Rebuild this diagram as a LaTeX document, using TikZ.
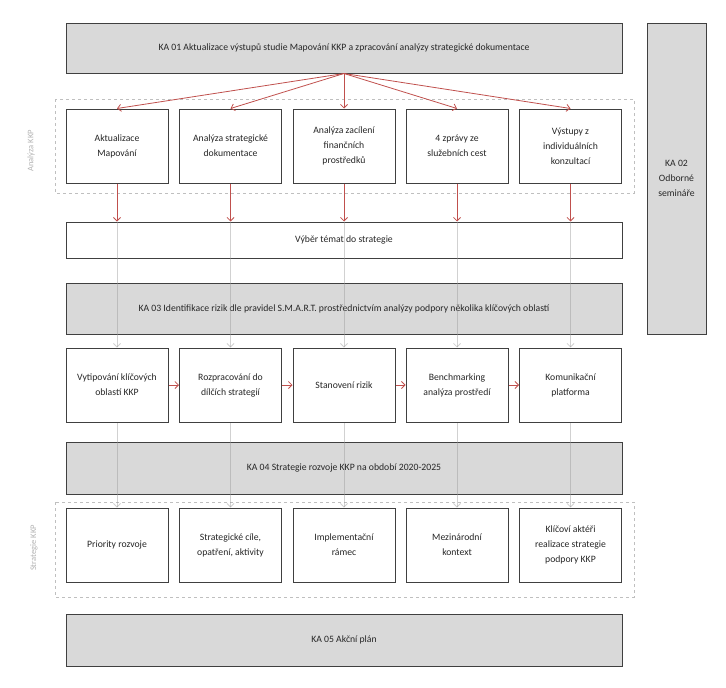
\documentclass[tikz,border=0pt]{standalone}
\usepackage{fontspec}
\setmainfont{Carlito}
\usepackage{tikz}
\usetikzlibrary{arrows.meta}

\definecolor{kared}{RGB}{192,80,77}
\definecolor{kafill}{RGB}{217,217,217}

\begin{document}
\begin{tikzpicture}[x=1pt,y=-1pt]
\tikzstyle{box}=[draw=black!75,line width=1pt,align=center,inner sep=2pt,text=black!85,font=\fontsize{9.7}{15}\selectfont]
\tikzstyle{ka}=[box,fill=kafill,minimum width=556pt,minimum height=51pt]
\tikzstyle{small}=[box,fill=white,minimum width=102pt,minimum height=74pt]
\tikzstyle{group}=[draw=black!25,dashed,line width=0.8pt]
\tikzstyle{side}=[text=black!30,rotate=90,font=\fontsize{8.5}{10}\selectfont]
\tikzstyle{redarr}=[-{Straight Barb[length=3.5pt,width=7pt]},kared,line width=0.8pt]
\tikzstyle{grayarr}=[-{Straight Barb[length=3.5pt,width=7pt]},black!40,draw opacity=0.45,line width=0.8pt]

\useasboundingbox (0,0) rectangle (726,688);

% dashed groups
\draw[group] (55,99) rectangle (634,193);
\draw[group] (55,502) rectangle (634,597);
\node[side] (lblanalyza) at (31,151) {Analýza KKP};
\node[side] (lblstrategie) at (34,548) {Strategie KKP};

% main activities
\node[ka,minimum height=50pt] (ka01) at (344,48) {KA 01 Aktualizace výstupů studie Mapování KKP a zpracování analýzy strategické dokumentace};
\node[box,fill=kafill,minimum width=59pt,minimum height=311pt] (ka02) at (676.5,178.5) {KA 02\\Odborné\\semináře};
\node[box,fill=white,minimum width=556pt,minimum height=36pt] (vyber) at (344,240) {Výběr témat do strategie};
\node[ka] (ka03) at (344,308.5) {KA 03 Identifikace rizik dle pravidel S.M.A.R.T. prostřednictvím analýzy podpory několika klíčových oblastí};
\node[ka,minimum height=52pt] (ka04) at (344,468) {KA 04 Strategie rozvoje KKP na období 2020-2025};
\node[ka,minimum height=52pt] (ka05) at (344,640) {KA 05 Akční plán};

% row 1 - analyza
\node[small] (a1) at (117,146) {Aktualizace\\Mapování};
\node[small] (a2) at (230.5,146) {Analýza strategické\\dokumentace};
\node[small] (a3) at (344,146) {Analýza zacílení\\finančních\\prostředků};
\node[small] (a4) at (457,146) {4 zprávy ze\\služebních cest};
\node[small] (a5) at (570.5,146) {Výstupy z\\individuálních\\konzultací};

% row 2 - rizika
\node[small] (b1) at (117,385) {Vytipování klíčových\\oblastí KKP};
\node[small] (b2) at (230.5,385) {Rozpracování do\\dílčích strategií};
\node[small] (b3) at (344,385) {Stanovení rizik};
\node[small] (b4) at (457,385) {Benchmarking\\analýza prostředí};
\node[small] (b5) at (570.5,385) {Komunikační\\platforma};

% row 3 - strategie
\node[small] (c1) at (117,545) {Priority rozvoje};
\node[small] (c2) at (230.5,545) {Strategické cíle,\\opatření, aktivity};
\node[small] (c3) at (344,545) {Implementační\\rámec};
\node[small] (c4) at (457,545) {Mezinárodní\\kontext};
\node[small] (c5) at (570.5,545) {Klíčoví aktéři\\realizace strategie\\podpory KKP};

% red arrows
\draw[redarr] (ka01.south) -- (a1.north);
\draw[redarr] (ka01.south) -- (a2.north);
\draw[redarr] (ka01.south) -- (a3.north);
\draw[redarr] (ka01.south) -- (a4.north);
\draw[redarr] (ka01.south) -- (a5.north);
\draw[redarr] (a1.south) -- (a1.south |- vyber.north);
\draw[redarr] (a2.south) -- (a2.south |- vyber.north);
\draw[redarr] (a3.south) -- (a3.south |- vyber.north);
\draw[redarr] (a4.south) -- (a4.south |- vyber.north);
\draw[redarr] (a5.south) -- (a5.south |- vyber.north);
\draw[redarr] (b1.east) -- (b2.west);
\draw[redarr] (b2.east) -- (b3.west);
\draw[redarr] (b3.east) -- (b4.west);
\draw[redarr] (b4.east) -- (b5.west);

% gray arrows over the bars
\draw[grayarr] (b1.north |- vyber.north) -- (b1.north);
\draw[grayarr] (b2.north |- vyber.north) -- (b2.north);
\draw[grayarr] (b3.north |- vyber.north) -- (b3.north);
\draw[grayarr] (b4.north |- vyber.north) -- (b4.north);
\draw[grayarr] (b5.north |- vyber.north) -- (b5.north);
\draw[grayarr] (b1.south) -- (c1.north);
\draw[grayarr] (b2.south) -- (c2.north);
\draw[grayarr] (b3.south) -- (c3.north);
\draw[grayarr] (b4.south) -- (c4.north);
\draw[grayarr] (b5.south) -- (c5.north);
\end{tikzpicture}
\end{document}
